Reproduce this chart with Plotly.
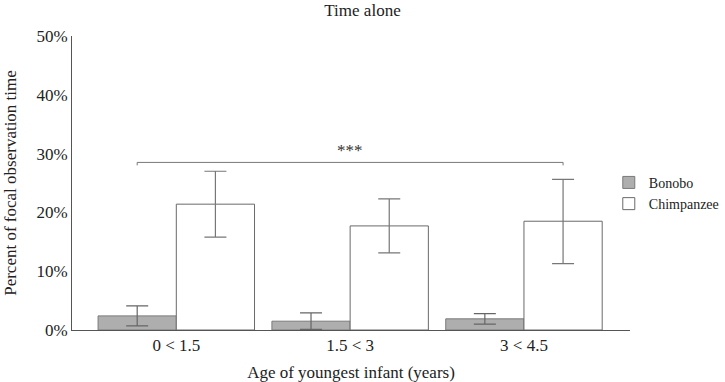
import plotly.graph_objects as go

categories = ["0 < 1.5", "1.5 < 3", "3 < 4.5"]
bonobo = [2.4, 1.5, 1.9]
bonobo_hi = [4.1, 2.9, 2.8]
bonobo_lo = [0.7, 0.1, 1.0]
chimp = [21.4, 17.7, 18.5]
chimp_hi = [27.0, 22.3, 25.6]
chimp_lo = [15.8, 13.1, 11.3]
sig_y = 28.5
sig_label = "***"

FONT = "Liberation Serif"

fig = go.Figure()
fig.add_trace(go.Bar(
    name="Bonobo", x=categories, y=bonobo,
    marker=dict(color="#aeaeae", line=dict(color="#7a7a7a", width=1)),
    error_y=dict(type="data", symmetric=False,
                 array=[h - v for h, v in zip(bonobo_hi, bonobo)],
                 arrayminus=[v - l for v, l in zip(bonobo, bonobo_lo)],
                 color="#666666", thickness=1.2, width=11),
))
fig.add_trace(go.Bar(
    name="Chimpanzee", x=categories, y=chimp,
    marker=dict(color="#ffffff", line=dict(color="#6a6a6a", width=1)),
    error_y=dict(type="data", symmetric=False,
                 array=[h - v for h, v in zip(chimp_hi, chimp)],
                 arrayminus=[v - l for v, l in zip(chimp, chimp_lo)],
                 color="#777777", thickness=1.2, width=11),
))

# significance bracket from first bonobo bar to last chimp bar
x_left = -0.225
x_right = len(categories) - 1 + 0.225
fig.add_shape(type="path", xref="x", yref="y",
              path=f"M {x_left},{sig_y - 0.5} L {x_left},{sig_y} L {x_right},{sig_y} L {x_right},{sig_y - 0.5}",
              line=dict(color="#777777", width=1))
fig.add_annotation(x=1, y=sig_y, xref="x", yref="y", text=sig_label,
                   showarrow=False, yanchor="bottom", yshift=0,
                   font=dict(family=FONT, size=17, color="#333333"))

fig.update_layout(
    width=725, height=382,
    barmode="group", bargap=0.1, bargroupgap=0,
    paper_bgcolor="white", plot_bgcolor="white",
    margin=dict(l=72, r=95, t=36, b=52, autoexpand=False),
    title=dict(text="Time alone", x=0.5, xanchor="center", y=0.99, yanchor="top",
               font=dict(family=FONT, size=17, color="#222222")),
    font=dict(family=FONT, color="#222222"),
    legend=dict(x=0.962, xanchor="left", y=0.555, yanchor="top",
                font=dict(family=FONT, size=14, color="#222222"),
                tracegroupgap=0, itemwidth=30, bgcolor="rgba(0,0,0,0)"),
    showlegend=True,
)
fig.update_xaxes(showline=True, linecolor="#555555", linewidth=1, ticks="",
                 range=[-0.6, 2.61], automargin=False,
                 tickfont=dict(family=FONT, size=17, color="#222222"),
                 title=dict(text="Age of youngest infant (years)",
                            font=dict(family=FONT, size=17, color="#222222")))
fig.update_yaxes(showline=True, linecolor="#555555", linewidth=1, ticks="",
                 range=[0, 50], dtick=10, ticksuffix="%", showgrid=False, zeroline=False,
                 automargin=False,
                 tickfont=dict(family=FONT, size=17, color="#222222"),
                 title=dict(text="Percent of focal observation time",
                            font=dict(family=FONT, size=17, color="#222222")))

fig.write_html("out.html", config={"displayModeBar": False},
               post_script="document.body.style.margin='0';document.body.style.overflow='hidden';")
